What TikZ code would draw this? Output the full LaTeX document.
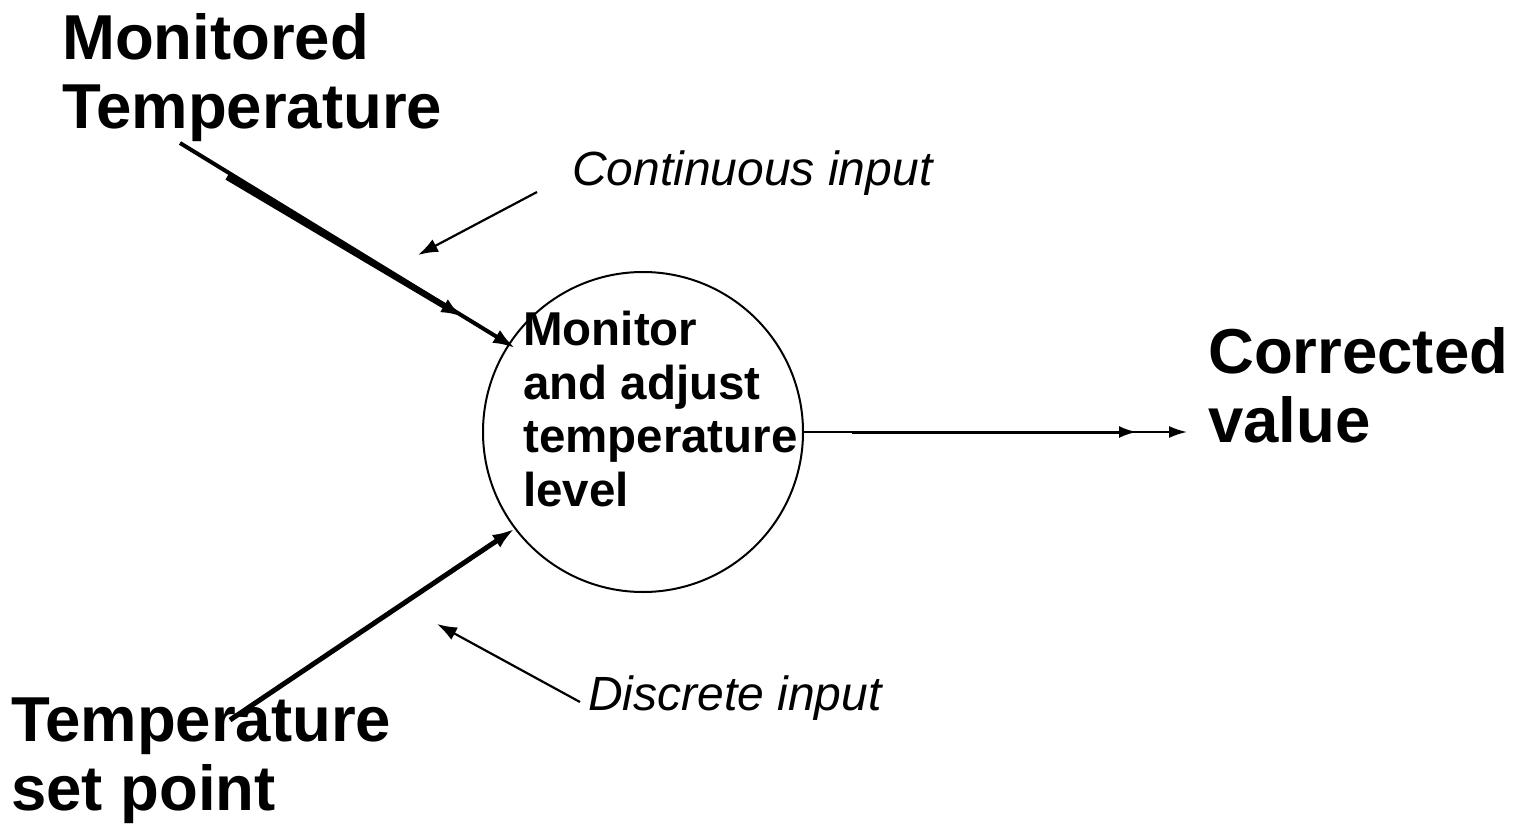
\documentclass[tikz,border=0pt]{standalone}
\usepackage{fontspec}
\setmainfont{Liberation Sans}
\usetikzlibrary{arrows.meta,calc}
\tikzset{
  biglabel/.style={anchor=north west,inner sep=0pt,align=left,font=\bfseries\fontsize{63.5}{69}\selectfont},
  proclabel/.style={anchor=north west,inner sep=0pt,align=left,font=\bfseries\fontsize{47.5}{53.5}\selectfont},
  notelabel/.style={anchor=base west,inner sep=0pt,font=\itshape\fontsize{48}{54}\selectfont},
  proc/.style={circle,draw,line width=2pt,minimum size=320pt,inner sep=0pt},
  flow/.style={line width=4pt,-{Latex[length=22pt,width=15pt]}},
  flowthick/.style={line width=6pt,-{Latex[length=22pt,width=15pt]}},
  noteptr/.style={line width=2.2pt,-{Latex[length=20pt,width=14pt]}},
  outflow/.style={line width=2pt,-{Latex[length=18pt,width=12pt]}},
  outflowthick/.style={line width=3pt,-{Latex[length=18pt,width=12pt]}}
}
\begin{document}
\begin{tikzpicture}[x=1pt,y=-1pt]
\useasboundingbox (0,0) rectangle (1524,827);
% labels
\node[biglabel] (mt) at (62,13) {Monitored\\Temperature};
\node[biglabel] (ts) at (11,698) {Temperature\\set point};
\node[biglabel] (cv) at (1208,327) {Corrected\\value};
\node[notelabel] (ci) at (572,185) {Continuous input};
\node[notelabel] (di) at (588,710) {Discrete input};
% process
\node[proc] (proc) at (643,432) {};
\node[proclabel] (proctext) at (523,311) {Monitor\\and adjust\\temperature\\level};
% coordinates
\coordinate (mtA) at (180,143);
\coordinate (mtB) at (227,177);
\coordinate (mtBend) at (463,317);
\coordinate (tsA) at (230,720);
\coordinate (ciA) at (537,192);
\coordinate (ciT) at (418,255);
\coordinate (diA) at (580,702);
\coordinate (diT) at (437,624);
\coordinate (cvB) at (852,432);
\coordinate (cvBend) at (1137,432);
\coordinate (cvT) at (1187,432);
% monitored temperature flow
\draw[flow] (mtA) -- ($(proc.center)+(-128,-84)$);
\draw[flowthick] (mtB) -- (mtBend);
% set point flow
\draw[flow,line width=5pt] (tsA) -- (proc.217);
% output flow
\draw[outflow] (proc.east) -- (cvT);
\draw[outflowthick] (cvB) -- (cvBend);
% note pointers
\draw[noteptr] (ciA) -- (ciT);
\draw[noteptr] (diA) -- (diT);
\end{tikzpicture}
\end{document}
